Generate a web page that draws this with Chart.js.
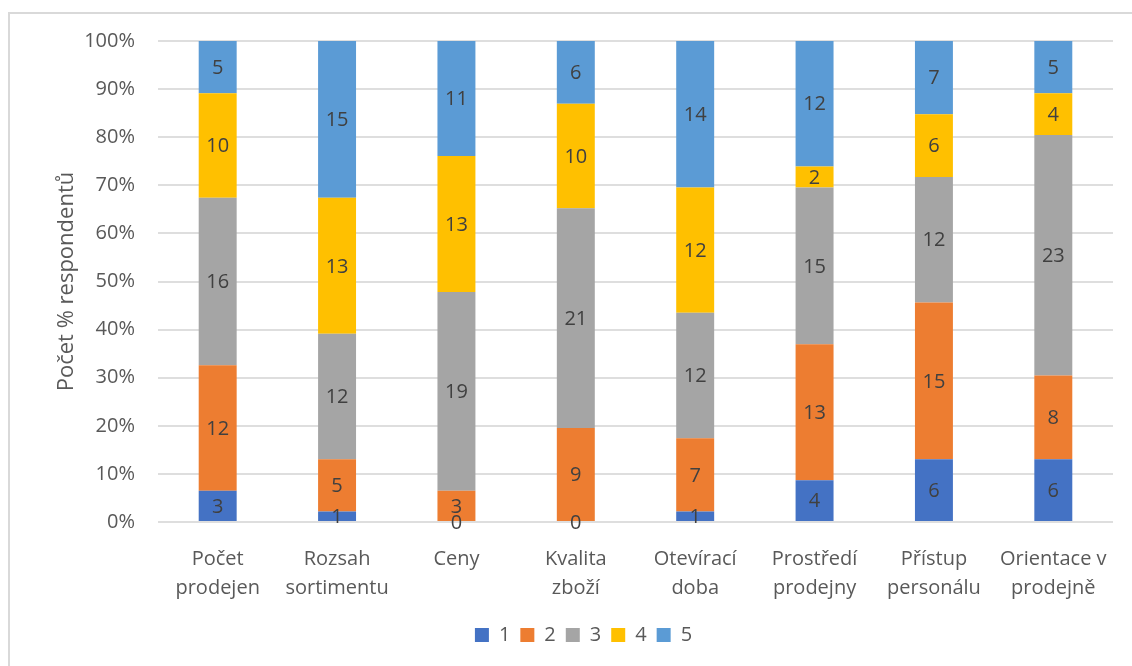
<!DOCTYPE html>
<html>
<head>
<meta charset="utf-8">
<script src="https://cdn.jsdelivr.net/npm/chart.js@4"></script>
<style>
    html, body { margin: 0; padding: 0; background: #fff; overflow: hidden; }
    #frame {
        position: absolute; left: 8px; top: 12px; width: 1140px; height: 680px;
        border: 2px solid #d9d9d9; box-sizing: border-box;
    }
    #wrap { position: absolute; left: 0; top: 0; width: 1132px; height: 666px; }
</style>
</head>
<body>
<div id="frame"></div>
<div id="wrap"><canvas id="chartRespondents"></canvas></div>
<script>
const categories = [
    ['Počet', 'prodejen'],
    ['Rozsah', 'sortimentu'],
    ['Ceny'],
    ['Kvalita', 'zboží'],
    ['Otevírací', 'doba'],
    ['Prostředí', 'prodejny'],
    ['Přístup', 'personálu'],
    ['Orientace v', 'prodejně']
];

// counts of respondents per rating
const rating1 = [3, 1, 0, 0, 1, 4, 6, 6];
const rating2 = [12, 5, 3, 9, 7, 13, 15, 8];
const rating3 = [16, 12, 19, 21, 12, 15, 12, 23];
const rating4 = [10, 13, 13, 10, 12, 2, 6, 4];
const rating5 = [5, 15, 11, 6, 14, 12, 7, 5];

const seriesNames = ['1', '2', '3', '4', '5'];
const seriesColors = ['#4472c4', '#ed7d31', '#a5a5a5', '#ffc000', '#5b9bd5'];

(function() {
    const FONT = "'Open Sans', sans-serif";
    const series = [rating1, rating2, rating3, rating4, rating5];

    const totals = categories.map(function (c, i) {
        return series.reduce(function (sum, s) { return sum + s[i]; }, 0);
    });

    const datasets = series.map(function (counts, k) {
        return {
            label: seriesNames[k],
            counts: counts,
            data: counts.map(function (v, i) { return v / totals[i] * 100; }),
            backgroundColor: seriesColors[k],
            borderWidth: 0,
            barPercentage: 0.318,
            categoryPercentage: 1
        };
    });

    const countLabels = {
        id: 'countLabels',
        afterDatasetsDraw: function (chart) {
            const ctx = chart.ctx;
            ctx.save();
            ctx.font = '20px ' + FONT;
            ctx.fillStyle = '#404040';
            ctx.textAlign = 'center';
            ctx.textBaseline = 'middle';
            chart.data.datasets.forEach(function (ds, k) {
                chart.getDatasetMeta(k).data.forEach(function (bar, i) {
                    ctx.fillText(String(ds.counts[i]), bar.x, (bar.y + bar.base) / 2 + 1);
                });
            });
            ctx.restore();
        }
    };

    new Chart('chartRespondents', {
        type: 'bar',
        data: {
            labels: categories,
            datasets: datasets
        },
        options: {
            responsive: true,
            maintainAspectRatio: false,
            animation: false,
            layout: {
                padding: { left: 54, top: 41, right: 19, bottom: 11 }
            },
            scales: {
                x: {
                    stacked: true,
                    grid: { display: false },
                    border: { display: false },
                    ticks: {
                        color: '#595959',
                        font: { family: FONT, size: 20, lineHeight: 1.45 },
                        padding: 15,
                        maxRotation: 0
                    },
                    afterFit: function (scale) { scale.height = 93; }
                },
                y: {
                    stacked: true,
                    min: 0,
                    max: 100,
                    grid: { color: '#dedede', lineWidth: 2, drawTicks: false },
                    border: { display: false },
                    ticks: {
                        stepSize: 10,
                        color: '#595959',
                        font: { family: FONT, size: 20 },
                        padding: 23,
                        callback: function (v) { return v + '%'; }
                    },
                    title: {
                        display: true,
                        text: 'Počet % respondentů',
                        color: '#595959',
                        font: { family: FONT, size: 22 },
                        padding: 0
                    },
                    afterFit: function (scale) { scale.width = 104; }
                }
            },
            plugins: {
                legend: {
                    position: 'bottom',
                    labels: {
                        boxWidth: 14,
                        boxHeight: 14,
                        color: '#595959',
                        font: { family: FONT, size: 20 },
                        padding: 10
                    }
                },
                tooltip: { enabled: false }
            }
        },
        plugins: [countLabels]
    });
})();
</script>
</body>
</html>
